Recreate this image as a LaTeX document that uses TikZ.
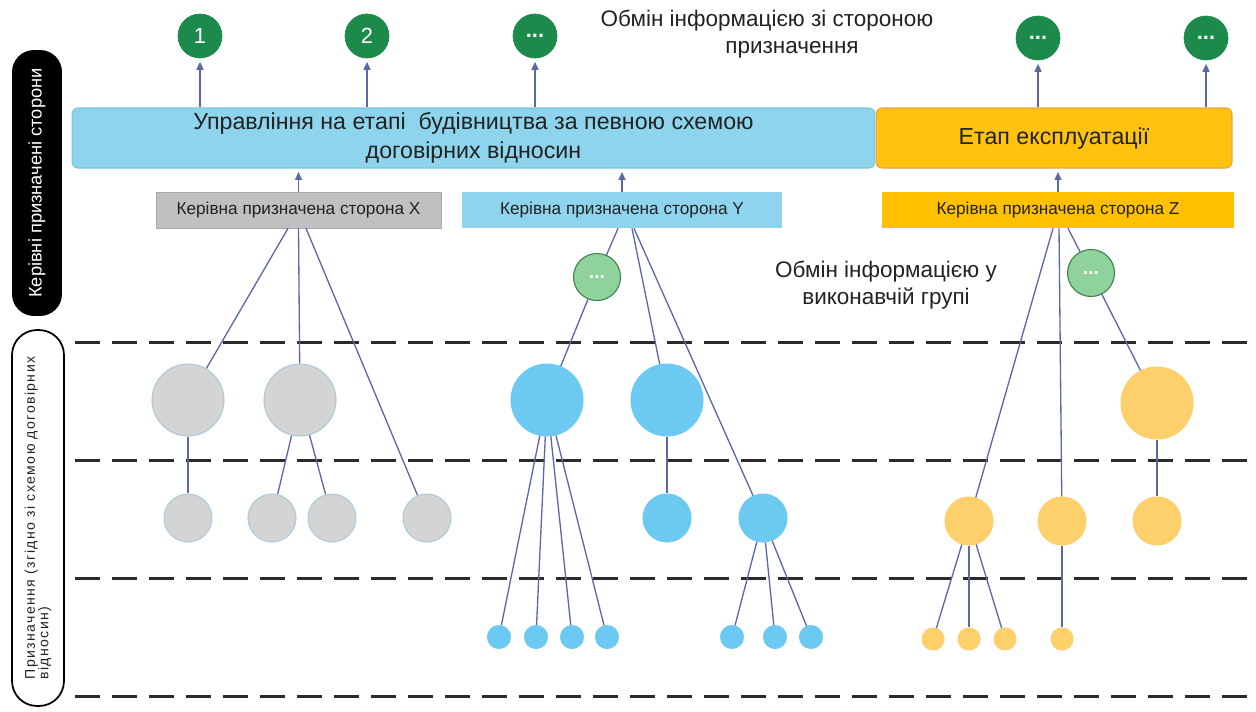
\documentclass[tikz,border=0pt]{standalone}
\usepackage{fontspec}
\setmainfont{Liberation Sans}
\usetikzlibrary{arrows.meta}

\definecolor{textdark}{HTML}{222222}
\definecolor{linkcol}{HTML}{5A68A6}
\definecolor{sepcol}{HTML}{2B2B2B}
\definecolor{phaseblue}{HTML}{8DD4EC}
\definecolor{phaseblueline}{HTML}{7CC6E2}
\definecolor{phaseyellow}{HTML}{FFC20E}
\definecolor{phaseyellowline}{HTML}{E3A544}
\definecolor{leadgrey}{HTML}{C0C0C0}
\definecolor{leadgreyline}{HTML}{A9A9A9}
\definecolor{leadblue}{HTML}{8DD4EC}
\definecolor{leadyellow}{HTML}{FFC000}
\definecolor{circgrey}{HTML}{D4D4D4}
\definecolor{circgreyline}{HTML}{AACBDD}
\definecolor{circblue}{HTML}{6CCAF2}
\definecolor{circyellow}{HTML}{FDD06C}
\definecolor{exgreen}{HTML}{1B8A4B}
\definecolor{teamgreen}{HTML}{8FD29C}
\definecolor{teamgreenline}{HTML}{3A7F4B}

\begin{document}
\begin{tikzpicture}[x=0.02cm, y=-0.02cm,
  every node/.style={text=textdark},
  link/.style={draw=linkcol, line width=0.75pt},
  upline/.style={link, -{Triangle[length=4.5pt, width=4pt]}, shorten >=2pt},
  sep/.style={draw=sepcol, line width=1.7pt, dash pattern=on 0.5cm off 0.24cm},
  exch/.style={circle, fill=exgreen, draw=exgreen, minimum size=0.88cm, inner sep=0pt,
    text=white, font=\fontsize{12.5}{12.5}\selectfont},
  team/.style={circle, fill=teamgreen, draw=teamgreenline, line width=0.6pt,
    minimum size=0.94cm, inner sep=0pt, text=white, font=\bfseries\fontsize{11}{11}\selectfont},
  phase/.style={rounded corners=0.12cm, minimum height=1.2cm, inner sep=0pt, line width=0.6pt,
    font=\fontsize{13.2}{16.5}\selectfont, align=center},
  lead/.style={minimum height=0.72cm, inner sep=0pt, font=\fontsize{9.8}{11}\selectfont},
  big/.style={circle, minimum size=1.44cm, inner sep=0pt, line width=0.6pt},
  mid/.style={circle, minimum size=0.96cm, inner sep=0pt, line width=0.6pt},
  tiny/.style={circle, minimum size=0.46cm, inner sep=0pt, line width=0.6pt},
  partx/.style={fill=circgrey, draw=circgreyline},
  party/.style={fill=circblue, draw=circblue},
  partz/.style={fill=circyellow, draw=circyellow},
  note/.style={font=\fontsize{12.8}{15}\selectfont, align=center}]

\useasboundingbox (0,0) rectangle (1256,711);

\foreach \y in {342,460,578,696}
  \draw[sep] (75,\y) -- (1256,\y);

% side labels
\node (sideLead) [rotate=90, fill=black, rounded corners=0.44cm, minimum width=5.32cm,
  minimum height=1.0cm, inner sep=0pt, text=white, font=\fontsize{10.4}{12}\selectfont]
  at (37,183) {Керівні призначені сторони};
\node (sideAppoint) [rotate=90, draw=black, line width=1pt, rounded corners=0.5cm,
  minimum width=7.52cm, minimum height=1.04cm, inner sep=0pt, align=left,
  font=\fontsize{8}{7.8}\selectfont\addfontfeatures{LetterSpace=10}]
  at (38,518) {Призначення (згідно зі схемою договірних\\відносин)};

% phases
\node (build) [phase, fill=phaseblue, draw=phaseblueline, minimum width=16.06cm]
  at (473.5,138) {Управління на етапі~ будівництва за певною схемою\\договірних відносин};
\node (operate) [phase, fill=phaseyellow, draw=phaseyellowline, minimum width=7.12cm]
  at (1054,138) {Етап експлуатації};

% information exchange
\node (ex1) [exch] at (200,36) {1};
\node (ex2) [exch] at (367,36) {2};
\node (ex3) [exch] at (535,36) {\textbf{...}};
\node (ex4) [exch] at (1038,38) {\textbf{...}};
\node (ex5) [exch] at (1206,38) {\textbf{...}};

\node (exTop) [note] at (767,34) {Обмін інформацією зі стороною\\\hspace*{1cm}призначення};
\node (exTeam) [note] at (886,285) {Обмін інформацією у\\виконавчій групі};

\draw[upline] (ex1 |- build.north) -- (ex1);
\draw[upline] (ex2 |- build.north) -- (ex2);
\draw[upline] (ex3 |- build.north) -- (ex3);
\draw[upline] (ex4 |- operate.north) -- (ex4);
\draw[upline] (ex5 |- operate.north) -- (ex5);

% lead appointed parties
\node (leadX) [lead, fill=leadgrey, draw=leadgreyline, minimum width=5.7cm] at (298.5,210)
  {Керівна призначена сторона X};
\node (leadY) [lead, fill=leadblue, minimum width=6.4cm] at (622,210)
  {Керівна призначена сторона Y};
\node (leadZ) [lead, fill=leadyellow, minimum width=7.04cm] at (1058,210)
  {Керівна призначена сторона Z};

\draw[upline] (leadX.north) -- (leadX.north |- build.south);
\draw[upline] (leadY.north) -- (leadY.north |- build.south);
\draw[upline] (leadZ.north) -- (leadZ.north |- operate.south);

% X
\node (x1) [big, partx] at (188,400) {};
\node (x2) [big, partx] at (300,400) {};
\node (x3) [mid, partx] at (188,518) {};
\node (x4) [mid, partx] at (272,518) {};
\node (x5) [mid, partx] at (332,518) {};
\node (x6) [mid, partx] at (427,518) {};

\draw[link] ([xshift=-0.21cm]leadX.south) -- (x1);
\draw[link] (leadX.south) -- (x2);
\draw[link] ([xshift=0.15cm]leadX.south) -- (x6);
\draw[link] (x1) -- (x3);
\draw[link] (x2) -- (x4);
\draw[link] (x2) -- (x5);

% Y
\node (teamY) [team] at (597,277) {...};
\node (y1) [big, party] at (547,400) {};
\node (y2) [big, party] at (667,400) {};
\node (y3) [mid, party] at (667,518) {};
\node (y4) [mid, party] at (763,518) {};
\node (y5) [tiny, party] at (499,637) {};
\node (y6) [tiny, party] at (536,637) {};
\node (y7) [tiny, party] at (572,637) {};
\node (y8) [tiny, party] at (607,637) {};
\node (y9) [tiny, party] at (732,637) {};
\node (y10) [tiny, party] at (775,637) {};
\node (y11) [tiny, party] at (811,637) {};

\draw[link] ([xshift=-0.08cm]leadY.south) -- (teamY);
\draw[link] ([xshift=0.2cm]leadY.south) -- (y2);
\draw[link] ([xshift=0.24cm]leadY.south) -- (y4);
\draw[link] (teamY) -- (y1);
\draw[link] (y2) -- (y3);
\foreach \t in {y5,y6,y7,y8}
  \draw[link] (y1) -- (\t);
\foreach \t in {y9,y10,y11}
  \draw[link] (y4) -- (\t);

% Z
\node (teamZ) [team] at (1091,273) {...};
\node (z1) [big, partz] at (1157,403) {};
\node (z2) [mid, partz] at (1157,521) {};
\node (z3) [mid, partz] at (969,521) {};
\node (z4) [mid, partz] at (1062,521) {};
\node (z5) [tiny, partz, minimum size=0.44cm] at (933,639) {};
\node (z6) [tiny, partz, minimum size=0.44cm] at (969,639) {};
\node (z7) [tiny, partz, minimum size=0.44cm] at (1005,639) {};
\node (z8) [tiny, partz, minimum size=0.44cm] at (1062,639) {};

\draw[link] ([xshift=-0.1cm]leadZ.south) -- (z3);
\draw[link] ([xshift=0.02cm]leadZ.south) -- (z4);
\draw[link] ([xshift=0.2cm]leadZ.south) -- (teamZ);
\draw[link] (teamZ) -- (z1);
\draw[link] (z1) -- (z2);
\draw[link] (z4) -- (z8);
\foreach \t in {z5,z6,z7}
  \draw[link] (z3) -- (\t);

\end{tikzpicture}
\end{document}
